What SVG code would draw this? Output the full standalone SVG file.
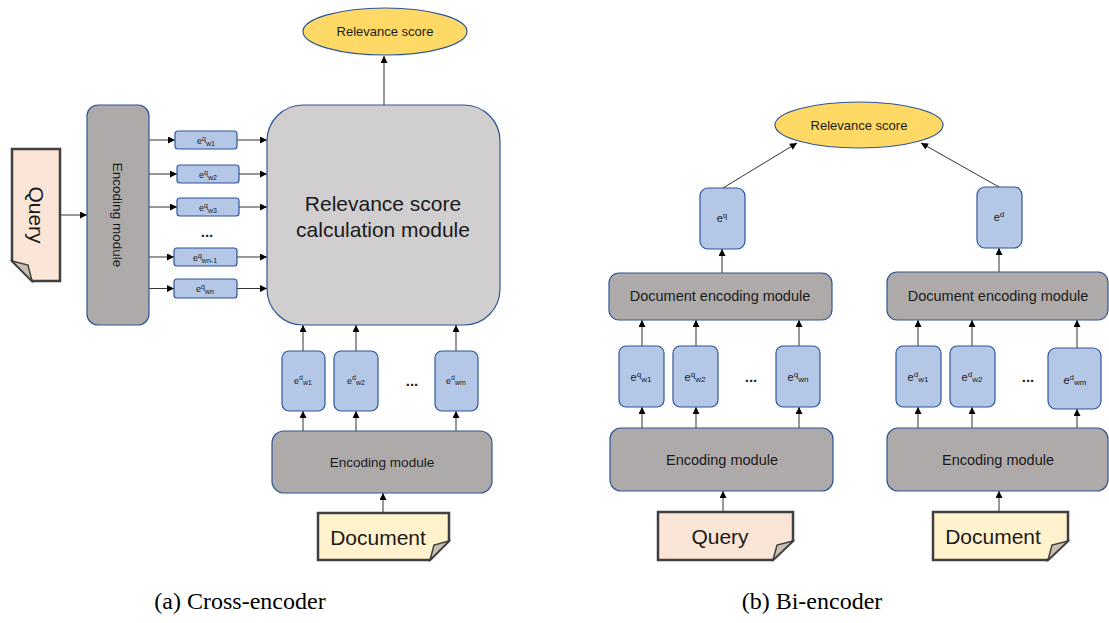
<svg xmlns="http://www.w3.org/2000/svg" width="1109" height="623" viewBox="0 0 1109 623">
<defs>
<marker id="ah" viewBox="0 0 10 10" refX="10" refY="5" markerWidth="8" markerHeight="7" markerUnits="userSpaceOnUse" orient="auto"><path d="M0,0 L10,5 L0,10 z" fill="#000"/></marker>
<style>
.gray{fill:#AEAAAA;stroke:#2F5597;stroke-width:1.2}
.blue{fill:#B4C7E7;stroke:#2F5597;stroke-width:1.2}
.big{fill:#D0CECE;stroke:#2F5597;stroke-width:1.2}
.ell{fill:#FFD966;stroke:#2F5597;stroke-width:1.2}
.q{fill:#FBE5D6;stroke:#404040;stroke-width:2.5}
.d{fill:#FFF2CC;stroke:#404040;stroke-width:2.5}
.fold{fill:#C9BEB2;stroke:#404040;stroke-width:1.5}
.c line{stroke:#333;stroke-width:1;marker-end:url(#ah)}
text{font-family:"Liberation Sans",Arial,sans-serif;fill:#1a1a1a;text-anchor:middle}
.cap{font-family:"Liberation Serif","Times New Roman",serif;font-size:24px;fill:#000}
.s{font-size:9px}
.sb{font-size:7px}
.m{font-size:11px}
.mb{font-size:8px}
.dots{font-size:15px;font-weight:bold;fill:#222}
</style>
</defs>
<rect width="1109" height="623" fill="#fff"/>

<!-- Connectors -->
<g id="connectors" class="c">
<line x1="384" y1="105" x2="384" y2="56"/>
<line x1="60" y1="215" x2="87" y2="215"/>
<line x1="149" y1="140" x2="175" y2="140"/>
<line x1="149" y1="174" x2="177" y2="174"/>
<line x1="149" y1="207" x2="177" y2="207"/>
<line x1="149" y1="257" x2="174" y2="257"/>
<line x1="149" y1="288.5" x2="174" y2="288.5"/>
<line x1="237" y1="140" x2="267" y2="140"/>
<line x1="239" y1="174" x2="267" y2="174"/>
<line x1="239" y1="207" x2="267" y2="207"/>
<line x1="237" y1="257" x2="267" y2="257"/>
<line x1="237" y1="288.5" x2="267" y2="288.5"/>
<line x1="303" y1="351" x2="303" y2="325"/>
<line x1="356" y1="351" x2="356" y2="325"/>
<line x1="456" y1="351" x2="456" y2="325"/>
<line x1="303" y1="431" x2="303" y2="411"/>
<line x1="356" y1="431" x2="356" y2="411"/>
<line x1="456" y1="431" x2="456" y2="411"/>
<line x1="383" y1="513" x2="383" y2="493"/>

<line x1="723" y1="188" x2="797" y2="143"/>
<line x1="999" y1="187" x2="921" y2="143"/>
<line x1="722" y1="273" x2="722" y2="249"/>
<line x1="999" y1="272" x2="999" y2="248"/>
<line x1="642" y1="346" x2="642" y2="320"/>
<line x1="696" y1="346" x2="696" y2="320"/>
<line x1="799" y1="346" x2="799" y2="320"/>
<line x1="642" y1="428" x2="642" y2="407"/>
<line x1="696" y1="428" x2="696" y2="407"/>
<line x1="799" y1="428" x2="799" y2="407"/>
<line x1="723" y1="512" x2="723" y2="491"/>
<line x1="918" y1="346" x2="918" y2="320"/>
<line x1="972" y1="346" x2="972" y2="320"/>
<line x1="1077" y1="348" x2="1077" y2="320"/>
<line x1="918" y1="428" x2="918" y2="407"/>
<line x1="972" y1="428" x2="972" y2="407"/>
<line x1="1077" y1="428" x2="1077" y2="409"/>
<line x1="999" y1="512" x2="999" y2="491"/>
</g>

<!-- (a) Cross-encoder -->
<g id="a-score">
<ellipse class="ell" cx="385" cy="31.5" rx="82" ry="23.5"/>
<text x="385" y="36" font-size="13">Relevance score</text>
</g>
<g id="a-calc">
<rect class="big" x="267" y="105" width="233" height="220" rx="36"/>
<text x="383" y="211" font-size="21">Relevance score</text>
<text x="383" y="237" font-size="21">calculation module</text>
</g>
<g id="a-encq">
<rect class="gray" x="87" y="105" width="62" height="220" rx="11"/>
<text transform="translate(113,215) rotate(90)" font-size="13.5">Encoding module</text>
</g>
<g id="a-query">
<path class="q" d="M12,149 H60 V281 H32 L12,261 Z"/>
<path class="fold" d="M12,261 L28,265 L32,281 Z"/>
<text transform="translate(29,215) rotate(90)" font-size="21">Query</text>
</g>
<g id="a-eq1"><rect class="blue" x="175" y="131" width="62" height="18" rx="3"/><text x="206" y="143.5" class="s">e<tspan class="sb" dy="-3">q</tspan><tspan class="sb" dy="5">w1</tspan></text></g>
<g id="a-eq2"><rect class="blue" x="177" y="165" width="62" height="18" rx="3"/><text x="208" y="177.5" class="s">e<tspan class="sb" dy="-3">q</tspan><tspan class="sb" dy="5">w2</tspan></text></g>
<g id="a-eq3"><rect class="blue" x="177" y="198" width="62" height="18" rx="3"/><text x="208" y="210.5" class="s">e<tspan class="sb" dy="-3">q</tspan><tspan class="sb" dy="5">w3</tspan></text></g>
<text x="207" y="237" class="dots">...</text>
<g id="a-eqn1"><rect class="blue" x="174" y="248" width="63" height="18" rx="3"/><text x="205" y="260.5" class="s">e<tspan class="sb" dy="-3">q</tspan><tspan class="sb" dy="5">wn-1</tspan></text></g>
<g id="a-eqn"><rect class="blue" x="174" y="279" width="63" height="19" rx="3"/><text x="205" y="292" class="s">e<tspan class="sb" dy="-3">q</tspan><tspan class="sb" dy="5">wn</tspan></text></g>
<g id="a-ed1"><rect class="blue" x="282" y="351" width="43" height="60" rx="7"/><text x="303" y="384" class="s">e<tspan class="sb" dy="-4">d</tspan><tspan class="sb" dy="5">w1</tspan></text></g>
<g id="a-ed2"><rect class="blue" x="334" y="351" width="44" height="60" rx="7"/><text x="356" y="384" class="s">e<tspan class="sb" dy="-4">d</tspan><tspan class="sb" dy="5">w2</tspan></text></g>
<text x="412" y="386" class="dots">...</text>
<g id="a-edm"><rect class="blue" x="435" y="351" width="43" height="60" rx="7"/><text x="456" y="384" class="s">e<tspan class="sb" dy="-4">d</tspan><tspan class="sb" dy="5">wm</tspan></text></g>
<g id="a-encd">
<rect class="gray" x="272" y="431" width="220" height="62" rx="12"/>
<text x="382" y="467" font-size="13.5">Encoding module</text>
</g>
<g id="a-doc">
<path class="d" d="M318,513 H449 V541 L430,560 H318 Z"/>
<path class="fold" d="M449,541 L434,545 L430,560 Z"/>
<text x="378" y="545" font-size="21">Document</text>
</g>

<!-- (b) Bi-encoder -->
<g id="b-score">
<ellipse class="ell" cx="859" cy="125" rx="84" ry="23"/>
<text x="859" y="130" font-size="13">Relevance score</text>
</g>
<g id="b-eq"><rect class="blue" x="700" y="188" width="45" height="61" rx="8"/><text x="722" y="222" class="m">e<tspan class="mb" dy="-4">q</tspan></text></g>
<g id="b-ed"><rect class="blue" x="977" y="187" width="45" height="61" rx="8"/><text x="999" y="221" class="m">e<tspan class="mb" dy="-4">d</tspan></text></g>
<g id="b-docenc-q">
<rect class="gray" x="609" y="273" width="223" height="47" rx="10"/>
<text x="720" y="301" font-size="14.5">Document encoding module</text>
</g>
<g id="b-docenc-d">
<rect class="gray" x="887" y="272" width="221" height="48" rx="10"/>
<text x="998" y="301" font-size="14.5">Document encoding module</text>
</g>
<g id="b-eq1"><rect class="blue" x="619" y="346" width="45" height="61" rx="7"/><text x="641" y="381" class="m">e<tspan class="mb" dy="-4">q</tspan><tspan class="mb" dy="5">w1</tspan></text></g>
<g id="b-eq2"><rect class="blue" x="673" y="346" width="45" height="61" rx="7"/><text x="695" y="381" class="m">e<tspan class="mb" dy="-4">q</tspan><tspan class="mb" dy="5">w2</tspan></text></g>
<text x="751" y="382" class="dots">...</text>
<g id="b-eqn"><rect class="blue" x="776" y="346" width="44" height="61" rx="7"/><text x="798" y="381" class="m">e<tspan class="mb" dy="-4">q</tspan><tspan class="mb" dy="5">wn</tspan></text></g>
<g id="b-encq">
<rect class="gray" x="610" y="428" width="223" height="63" rx="11"/>
<text x="722" y="465" font-size="14.5">Encoding module</text>
</g>
<g id="b-query">
<path class="q" d="M658,512 H793 V541 L773,560 H658 Z"/>
<path class="fold" d="M793,541 L777,545 L773,560 Z"/>
<text x="720" y="544" font-size="21">Query</text>
</g>
<g id="b-ed1"><rect class="blue" x="896" y="346" width="45" height="61" rx="7"/><text x="918" y="381" class="m">e<tspan class="mb" dy="-4">d</tspan><tspan class="mb" dy="5">w1</tspan></text></g>
<g id="b-ed2"><rect class="blue" x="950" y="346" width="45" height="61" rx="7"/><text x="972" y="381" class="m">e<tspan class="mb" dy="-4">d</tspan><tspan class="mb" dy="5">w2</tspan></text></g>
<text x="1028" y="382" class="dots">...</text>
<g id="b-edm"><rect class="blue" x="1048" y="348" width="53" height="61" rx="8"/><text x="1075" y="384" class="m">e<tspan class="mb" dy="-4">d</tspan><tspan class="mb" dy="5">wm</tspan></text></g>
<g id="b-encd">
<rect class="gray" x="887" y="428" width="221" height="63" rx="11"/>
<text x="998" y="465" font-size="14.5">Encoding module</text>
</g>
<g id="b-doc">
<path class="d" d="M933,512 H1068 V541 L1048,560 H933 Z"/>
<path class="fold" d="M1068,541 L1052,545 L1048,560 Z"/>
<text x="993" y="544" font-size="21">Document</text>
</g>

<text class="cap" x="240" y="609">(a) Cross-encoder</text>
<text class="cap" x="812" y="609">(b) Bi-encoder</text>
</svg>
